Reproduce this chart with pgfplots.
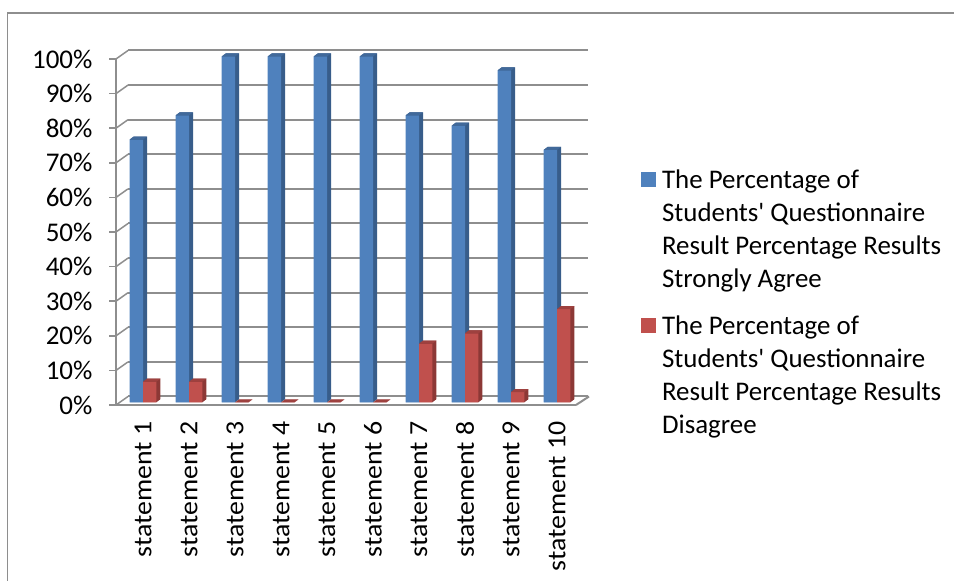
\documentclass[border=0pt]{standalone}
\usepackage{pgfplots}
\pgfplotsset{compat=1.18}
\usepackage{pgfplotstable}
\usepackage{fontspec}
\setmainfont{Carlito}

\definecolor{blueface}{HTML}{4F81BD}
\definecolor{blueside}{HTML}{385D8A}
\definecolor{bluetop}{HTML}{41699A}
\definecolor{redface}{HTML}{C0504D}
\definecolor{redside}{HTML}{8C3836}
\definecolor{redtop}{HTML}{9E413F}
\definecolor{wallgrey}{HTML}{8E8E8E}

% x is the middle of each category slot
\pgfplotstableread{
x    agree disagree
0.5  76    6
1.5  83    6
2.5  100   0
3.5  100   0
4.5  100   0
5.5  100   0
6.5  83    17
7.5  80    20
8.5  96    3
9.5  73    27
}\results

% top face of a bar, 13.4pt wide
\pgfdeclareplotmark{bartop}{%
  \pgfpathmoveto{\pgfpoint{-6.7pt}{0pt}}%
  \pgflineto{\pgfpoint{6.7pt}{0pt}}%
  \pgflineto{\pgfpoint{10.7pt}{3pt}}%
  \pgflineto{\pgfpoint{-2.7pt}{3pt}}%
  \pgfpathclose
  \pgfusepathqfill
}

% the reference's category labels are stretched along their length
\newcommand\stm[1]{\scalebox{1.07}[1]{statement #1}}
\newcommand\entry[1]{{\renewcommand\arraystretch{1.012}\begin{tabular}[t]{@{\hspace{4pt}}l@{}}#1\end{tabular}}}

\begin{document}
\begin{tikzpicture}[x=1pt,y=1pt]
\path[use as bounding box] (0,0) rectangle (954,581);
\draw[wallgrey,line width=1.5pt] (7.5,0) -- (7.5,568) -- (954,568);
\begin{axis}[
  at={(116pt,176pt)},anchor=south west,
  scale only axis,width=460pt,height=346pt,
  xmin=0,xmax=10,ymin=0,ymax=100,
  clip=false,
  axis x line*=bottom,axis y line*=left,
  axis line style={wallgrey,line width=2pt,-},
  xtick={0.5,1.5,...,9.5},
  xticklabels={\stm{1},\stm{2},\stm{3},\stm{4},\stm{5},\stm{6},\stm{7},\stm{8},\stm{9},\stm{10}},
  minor xtick={0,1,...,10},
  ytick={0,10,...,100},
  major tick length=0pt,minor tick length=8pt,
  xtick style={draw=none},
  minor x tick style={wallgrey,line width=1.5pt},
  ytick style={draw=none},
  ymajorgrids,
  grid style={wallgrey,line width=2pt,shift={(12pt,8.5pt)}},
  xticklabel style={font=\fontsize{26}{26}\selectfont,rotate=90,anchor=east,xshift=-13pt,yshift=-4pt},
  yticklabel style={font=\fontsize{27}{27}\selectfont,xshift=-20pt,anchor=east},
  yticklabel={\pgfmathprintnumber{\tick}\%},
  /pgf/number format/assume math mode=true,
  bar width=13.4pt,
  legend style={at={(axis cs:11.41,69.8)},anchor=north west,draw=none,fill=none,inner sep=0pt,
    row sep=117.5pt,
    font=\fontsize{26.9}{32.5}\selectfont,
    cells={anchor=base west}},
  legend cell align=left,
  legend image code/.code={\fill[#1] (0pt,-11.7pt) rectangle (15pt,3.3pt);},
]
% depth lines of the wall and floor
\pgfplotsinvokeforeach{0,10,...,100}{
  \draw[wallgrey,line width=1.5pt] (axis cs:0,#1) -- ++(12pt,8.5pt);
  \draw[wallgrey,line width=1.5pt] (axis cs:0,#1) -- ++(-7pt,0pt);
}
\draw[wallgrey,line width=2pt] (axis cs:10,0) -- ++(13pt,8.5pt);

% side faces: the same bars stepped backwards
\pgfplotsinvokeforeach{1,...,8}{
  \addplot[forget plot,ybar,bar shift=-6.7pt,draw=none,fill=blueside,shift={(4pt+#1*0.5pt,2.5pt+#1*0.375pt)}]
    table[x=x,y=agree] {\results};
}
\addplot[forget plot,only marks,mark=bartop,mark size=1pt,mark options={fill=bluetop,draw=none},shift={(4pt-6.7pt,2.5pt)}]
  table[x=x,y=agree] {\results};
\addplot[ybar,bar shift=-6.7pt,draw=none,fill=blueface,shift={(4pt,2.5pt)}]
  table[x=x,y=agree] {\results};
\addlegendentry{\entry{The Percentage of\\Students\textquotesingle{} Questionnaire\\Result Percentage Results\\Strongly Agree}}

\pgfplotsinvokeforeach{1,...,8}{
  \addplot[forget plot,ybar,bar shift=6.7pt,draw=none,fill=redside,shift={(4pt+#1*0.5pt,2.5pt+#1*0.375pt)}]
    table[x=x,y=disagree] {\results};
}
\addplot[forget plot,only marks,mark=bartop,mark size=1pt,mark options={fill=redtop,draw=none},shift={(4pt+6.7pt,2.5pt)}]
  table[x=x,y=disagree] {\results};
\addplot[ybar,bar shift=6.7pt,draw=none,fill=redface,shift={(4pt,2.5pt)}]
  table[x=x,y=disagree] {\results};
\addlegendentry{\entry{The Percentage of\\Students\textquotesingle{} Questionnaire\\Result Percentage Results\\Disagree}}
\end{axis}
\end{tikzpicture}
\end{document}
